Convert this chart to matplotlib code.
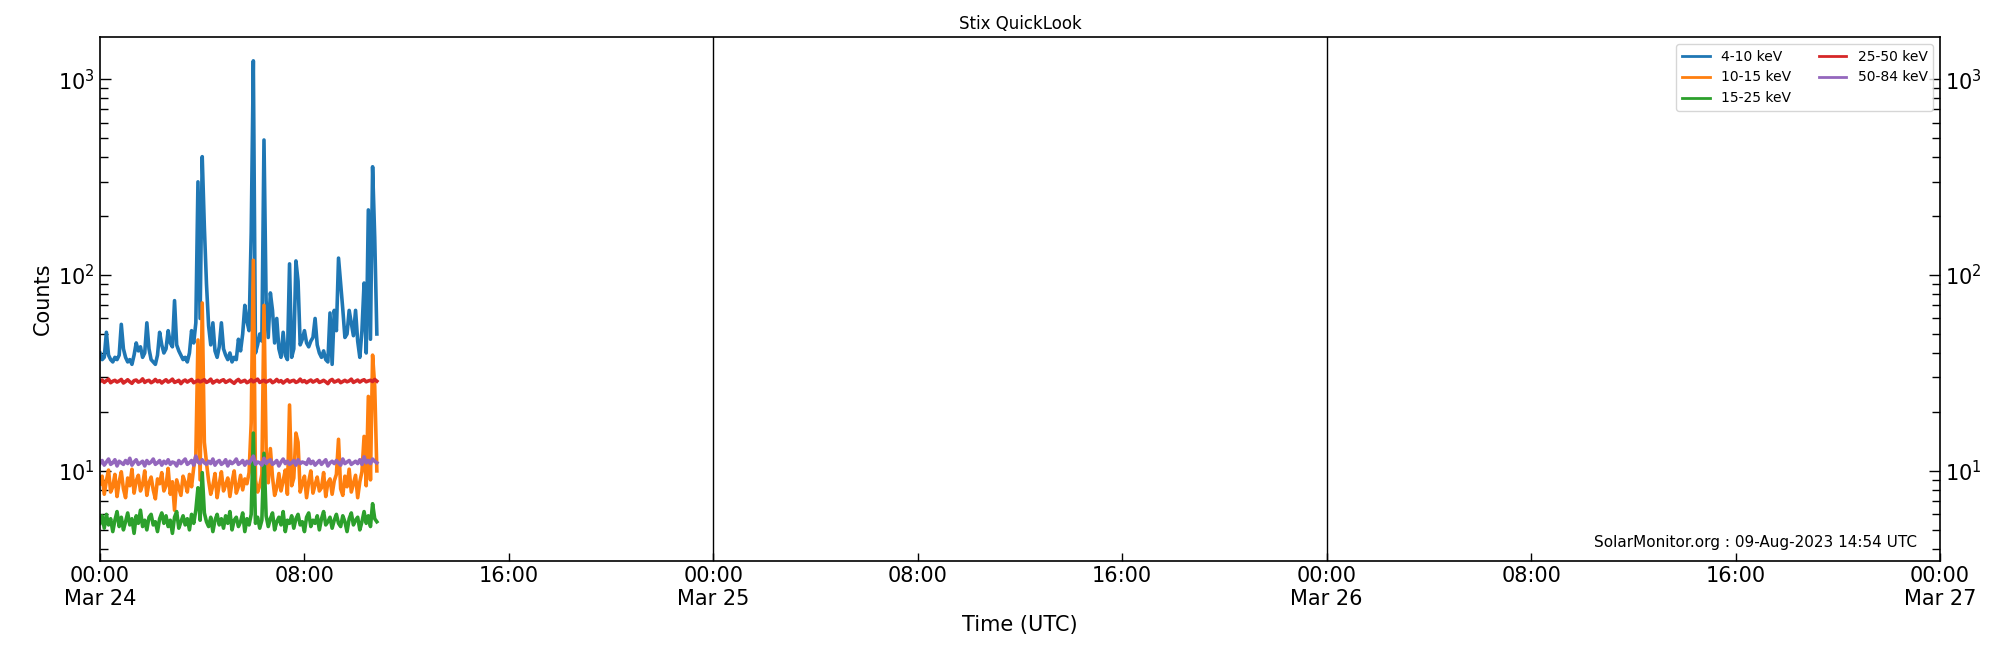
import matplotlib
matplotlib.use("Agg")
import matplotlib.pyplot as plt
import matplotlib.dates as mdates
import numpy as np
import datetime as dt

# ---- data (5-minute samples from 2023-03-24 00:00) ----
start_time = dt.datetime(2023, 3, 24, 0, 0)
step_minutes = 5

counts_4_10 = [40, 37, 38, 51, 39, 37, 36, 38, 37, 39,
               56, 42, 38, 36, 37, 35, 39, 45, 41, 43,
               38, 40, 57, 42, 37, 36, 35, 39, 51, 44,
               40, 42, 52, 45, 43, 74, 44, 41, 39, 37,
               38, 36, 40, 52, 45, 57, 299, 60, 402, 176,
               90, 55, 44, 57, 41, 38, 43, 57, 42, 39,
               37, 40, 36, 38, 37, 47, 41, 50, 70, 58,
               52, 164, 1240, 40, 44, 50, 46, 489, 74, 48,
               81, 66, 45, 60, 42, 38, 51, 39, 37, 114,
               38, 42, 118, 93, 44, 47, 52, 45, 43, 46,
               48, 60, 44, 40, 38, 41, 37, 36, 64, 35,
               66, 52, 122, 90, 67, 48, 50, 66, 57, 49,
               66, 46, 38, 52, 91, 40, 215, 47, 357, 155, 50]

counts_10_15 = [8.6, 9.4, 7.6, 8.9, 10.1, 7.8, 8.3, 9.6, 7.4, 8.8,
                9.9, 8.1, 7.3, 9.2, 8.4, 10.2, 7.7, 8.9, 9.5, 7.9,
                8.5, 10.0, 7.5, 8.7, 9.3, 8.0, 7.2, 9.1, 8.6, 9.8,
                7.9, 8.4, 10.3, 7.6, 8.8, 6.3, 9.0, 8.2, 7.5, 9.4,
                8.7, 7.8, 9.6, 8.3, 10.4, 12.0, 46.6, 9.0, 72.0, 14.0,
                11.0, 8.9, 7.6, 8.4, 9.7, 7.3, 8.6, 9.9, 7.9, 8.5,
                9.2, 7.4, 8.8, 10.0, 7.7, 8.3, 9.5, 8.0, 9.1, 8.6,
                9.8, 17.6, 119.0, 9.0, 7.8, 8.4, 9.6, 70.0, 13.0, 8.7,
                13.0, 9.3, 7.5, 8.2, 9.7, 7.9, 8.9, 10.1, 7.6, 21.7,
                8.4, 9.2, 15.6, 14.0, 7.8, 8.6, 9.4, 7.3, 8.8, 10.0,
                7.7, 8.5, 9.3, 7.9, 8.2, 9.8, 7.4, 8.7, 9.1, 7.6,
                8.9, 9.6, 14.5, 8.1, 7.5, 9.4, 8.3, 10.2, 7.8, 8.6,
                9.5, 7.3, 8.8, 9.9, 15.0, 8.4, 24.0, 9.0, 39.0, 27.0, 10.0]

counts_15_25 = [5.4, 5.9, 5.1, 6.0, 5.3, 5.7, 4.9, 5.6, 6.2, 5.2,
                5.8, 5.0, 5.5, 6.1, 5.3, 5.7, 4.8, 5.9, 5.4, 6.3,
                5.2, 5.6, 5.0, 5.8, 6.0, 5.3, 5.5, 4.9, 5.7, 6.1,
                5.4, 5.9, 5.2, 5.6, 4.8, 5.8, 6.2, 5.1, 5.5, 5.9,
                5.3, 5.7, 5.0, 6.0, 5.4, 6.3, 8.2, 5.6, 9.8, 6.1,
                5.5, 5.2, 5.8, 4.9, 5.6, 6.0, 5.3, 5.7, 5.1, 5.9,
                5.4, 6.2, 5.0, 5.6, 5.8, 5.2, 5.5, 6.1, 4.9, 5.7,
                5.3, 6.0, 15.6, 5.4, 5.8, 5.1, 5.6, 12.3, 5.9, 5.2,
                5.7, 6.1, 5.0, 5.5, 5.8, 5.3, 6.2, 4.9, 5.6, 5.4,
                5.9, 5.1, 5.7, 6.0, 5.3, 5.5, 4.9, 5.8, 6.1, 5.2,
                5.6, 5.4, 5.9, 5.0, 5.7, 6.2, 5.3, 5.5, 5.8, 5.1,
                5.6, 6.0, 5.4, 5.2, 5.9, 5.5, 4.9, 5.7, 6.1, 5.3,
                5.6, 5.8, 5.0, 5.5, 6.2, 5.4, 5.9, 5.2, 6.8, 5.7, 5.5]

counts_25_50 = [28.6, 29.1, 28.3, 28.9, 29.4, 28.2, 28.7, 29.0, 28.4, 28.8,
                29.3, 28.1, 28.6, 29.2, 28.5, 28.0, 28.9, 29.1, 28.4, 28.7,
                29.5, 28.3, 28.8, 29.0, 28.2, 28.6, 29.3, 28.5, 28.9, 28.1,
                28.7, 29.2, 28.4, 28.8, 29.4, 28.3, 28.6, 29.0, 27.9, 28.7,
                29.1, 28.4, 28.9, 29.3, 28.2, 28.6, 29.0, 28.5, 28.8, 29.2,
                28.3, 28.7, 29.4, 28.1, 28.6, 29.0, 28.4, 28.9, 29.2, 28.3,
                28.7, 29.1, 28.5, 28.0, 28.8, 29.3, 28.4, 28.7, 29.0, 28.2,
                28.6, 29.2, 28.5, 28.9, 29.4, 28.3, 28.7, 29.0, 28.4, 28.8,
                29.1, 28.2, 28.6, 29.3, 28.5, 28.9, 28.1, 28.7, 29.2, 28.4,
                28.8, 29.0, 28.3, 28.6, 29.4, 28.5, 28.9, 28.2, 28.7, 29.1,
                28.4, 28.8, 29.2, 28.3, 28.6, 29.0, 28.5, 27.9, 28.9, 29.3,
                28.4, 28.7, 29.1, 28.2, 28.6, 29.0, 28.5, 28.8, 29.4, 28.3,
                28.7, 29.1, 28.4, 28.9, 29.2, 28.5, 28.8, 29.0, 28.6, 29.3, 28.7]

counts_50_84 = [10.9, 11.3, 10.7, 11.1, 11.5, 10.8, 11.0, 11.4, 10.6, 11.2,
                11.0, 10.8, 11.3, 10.9, 11.6, 10.7, 11.1, 11.4, 10.8, 11.0,
                11.2, 10.6, 11.3, 10.9, 11.1, 11.5, 10.8, 11.0, 11.3, 10.7,
                11.2, 10.9, 11.4, 10.8, 11.1, 11.0, 10.6, 11.3, 10.9, 11.2,
                11.5, 10.8, 11.0, 11.3, 10.7, 11.9, 11.1, 10.9, 11.4, 11.0,
                10.8, 11.2, 10.9, 11.5, 10.7, 11.1, 11.3, 10.8, 11.0, 11.4,
                10.6, 11.2, 10.9, 11.1, 11.5, 10.8, 11.0, 11.3, 10.7, 11.2,
                10.9, 11.4, 11.9, 10.8, 11.1, 11.0, 10.7, 11.6, 10.9, 11.2,
                11.4, 10.8, 11.0, 11.3, 10.6, 11.1, 11.5, 10.9, 11.2, 10.8,
                11.0, 11.3, 10.7, 11.4, 10.9, 11.1, 11.0, 10.8, 11.5, 10.9,
                11.2, 10.7, 11.0, 11.3, 10.8, 11.1, 11.4, 10.6, 11.0, 11.2,
                10.9, 11.3, 11.0, 10.7, 11.5, 10.9, 11.1, 11.3, 10.8, 11.0,
                11.2, 10.9, 11.4, 10.8, 11.8, 11.0, 11.3, 10.9, 11.5, 11.2, 11.0]

band_labels = ["4-10 keV", "10-15 keV", "15-25 keV", "25-50 keV", "50-84 keV"]
band_colors = ["#1f77b4", "#ff7f0e", "#2ca02c", "#d62728", "#9467bd"]

x_start = dt.datetime(2023, 3, 24)
x_end = dt.datetime(2023, 3, 27)
day_lines = [dt.datetime(2023, 3, 25), dt.datetime(2023, 3, 26)]
credit = "SolarMonitor.org : 09-Aug-2023 14:54 UTC"

# ---- plot ----
fig = plt.figure(figsize=(20, 6.5), dpi=100)
ax = fig.add_axes([0.05, 0.137, 0.92, 0.806])

series = [counts_4_10, counts_10_15, counts_15_25, counts_25_50, counts_50_84]
for vals, lab, col in zip(series, band_labels, band_colors):
    times = [start_time + dt.timedelta(minutes=step_minutes * i) for i in range(len(vals))]
    ax.plot(times, vals, color=col, lw=2.6, label=lab)

for d in day_lines:
    ax.axvline(d, color="black", lw=1.0)

ax.set_yscale("log")
ax.set_ylim(3.47, 1640)
ax.set_xlim(x_start, x_end)

ax.xaxis.set_major_locator(mdates.HourLocator(byhour=[0, 8, 16]))

def fmt(x, pos=None):
    d = mdates.num2date(x)
    if d.hour == 0 and d.minute == 0:
        return d.strftime("%H:%M\n%b %d")
    return d.strftime("%H:%M")

ax.xaxis.set_major_formatter(plt.FuncFormatter(fmt))

ax.tick_params(axis="x", which="major", direction="in", length=6, labelsize=15, width=1)
ax.tick_params(axis="y", which="major", direction="in", length=8, labelsize=15,
               left=True, right=True, labelleft=True, labelright=True, width=1)
ax.tick_params(axis="y", which="minor", direction="in", length=5.5,
               left=True, right=True, width=1)

for sp in ax.spines.values():
    sp.set_linewidth(1.2)

ax.set_ylabel("Counts", fontsize=15)
ax.set_xlabel("Time (UTC)", fontsize=15)
ax.set_title("Stix QuickLook", fontsize=12)

leg = ax.legend(loc="upper right", ncol=2, fontsize=10)
for line in leg.get_lines():
    line.set_linewidth(2.0)

ax.text(0.9875, 0.021, credit, transform=ax.transAxes, ha="right", va="bottom", fontsize=11)

fig.savefig("out.png", dpi=100)
